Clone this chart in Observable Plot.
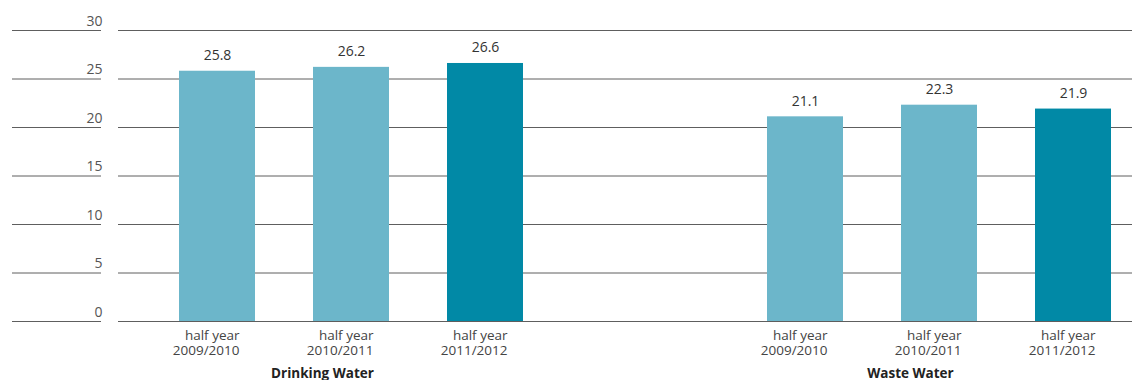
<!DOCTYPE html>
<html>
<head>
<meta charset="utf-8">
<script src="https://cdn.jsdelivr.net/npm/d3@7"></script>
<script src="https://cdn.jsdelivr.net/npm/@observablehq/plot@0.6"></script>
<style>
  html, body { margin: 0; padding: 0; background: #fff; }
  #chart svg { display: block; }
</style>
</head>
<body>
<div id="chart"></div>
<script>
const groups = ["Drinking Water", "Waste Water"];
const periods = ["half year\n2009/2010", "half year\n2010/2011", "half year\n2011/2012"];
const drinkingWater = [25.8, 26.2, 26.6];
const wasteWater = [21.1, 22.3, 21.9];
const yTicks = [0, 5, 10, 15, 20, 25, 30];
const barColors = ["#6cb6ca", "#6cb6ca", "#0189a6"];

const rows = [
  ...periods.map((p, i) => ({group: groups[0], period: p, value: drinkingWater[i]})),
  ...periods.map((p, i) => ({group: groups[1], period: p, value: wasteWater[i]}))
];
const firstGrid = yTicks.map(v => ({group: groups[0], v}));
const secondGrid = yTicks.map(v => ({group: groups[1], v}));
const groupRows = groups.map(g => ({group: g}));

const font = "'Open Sans', 'DejaVu Sans', sans-serif";
const gridColor = "#5e5e5e";

const chart = Plot.plot({
  width: 1133,
  height: 380,
  marginLeft: 158,
  marginRight: 1,
  marginTop: 30,
  marginBottom: 59,
  axis: null,
  style: {fontFamily: font, background: "#fff"},
  fx: {domain: groups, paddingInner: 0.3463, paddingOuter: 0},
  x: {domain: periods, paddingInner: 0.435, paddingOuter: 0.1487},
  y: {domain: [0, 30]},
  color: {domain: periods, range: barColors},
  marks: [
    // left gridline segments under tick labels
    Plot.ruleY(firstGrid, {fx: "group", y: "v", stroke: gridColor, insetLeft: -147, insetRight: 442}),
    // main gridlines (first panel extends left and across the gap)
    Plot.ruleY(firstGrid, {fx: "group", y: "v", stroke: gridColor, insetLeft: -41, insetRight: -204}),
    Plot.ruleY(secondGrid, {fx: "group", y: "v", stroke: gridColor, insetLeft: 0, insetRight: -1}),
    Plot.barY(rows, {fx: "group", x: "period", y: "value", fill: "period"}),
    Plot.text(rows, {
      fx: "group", x: "period", y: "value",
      text: d => d3.format(".1f")(d.value),
      lineAnchor: "bottom", dy: -11,
      fontSize: 14, fill: "#333"
    }),
    // y tick labels
    Plot.text(firstGrid, {
      fx: "group", y: "v", text: d => String(d.v),
      frameAnchor: "left", textAnchor: "end", dx: -57, dy: -9,
      fontSize: 14, fill: "#555"
    }),
    // x category labels
    Plot.text(rows, {
      fx: "group", x: "period", y: 0, text: "period",
      textAnchor: "end", lineAnchor: "top", dx: 22, dy: 7.5,
      lineHeight: 1.12, fontSize: 13.5, fill: "#444"
    }),
    // group titles
    Plot.text(groupRows, {
      fx: "group", text: "group",
      frameAnchor: "bottom", dx: -29, dy: 56,
      fontSize: 13.5, fontWeight: "bold", fill: "#222"
    })
  ]
});

document.getElementById("chart").appendChild(chart);
</script>
</body>
</html>
